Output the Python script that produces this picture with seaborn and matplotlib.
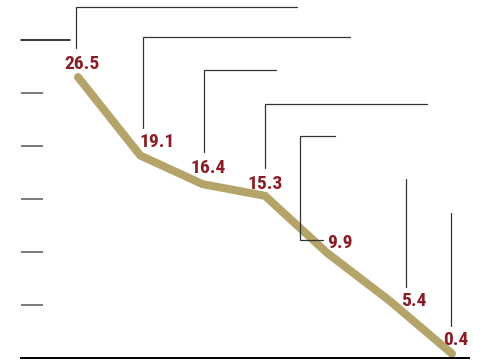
import matplotlib
matplotlib.use("Agg")
import matplotlib.pyplot as plt
import matplotlib.transforms as mtransforms
import seaborn as sns
import pandas as pd

# ---- data ----
positions = [0, 1, 2, 3, 4, 5, 6]
values = [26.5, 19.1, 16.4, 15.3, 9.9, 5.4, 0.4]
labels = ["26.5", "19.1", "16.4", "15.3", "9.9", "5.4", "0.4"]
y_ticks = [5, 10, 15, 20, 25, 30]

# ---- style ----
LINE_COLOR = "#B5A46A"
LABEL_COLOR = "#8B1C26"
W, H = 489, 361

sns.set_style("white")
plt.rcParams["font.family"] = ["Roboto Condensed", "Archivo Narrow",
                               "Barlow Condensed", "DejaVu Sans"]

fig = plt.figure(figsize=(W / 100, H / 100), dpi=100)
ax = fig.add_axes([21 / W, 3 / H, 448 / W, 358 / H])

df = pd.DataFrame({"pos": positions, "val": values})
sns.lineplot(data=df, x="pos", y="val", ax=ax, color=LINE_COLOR,
             linewidth=5.8, solid_capstyle="round", solid_joinstyle="miter",
             clip_on=False)

ax.set_xlim((21 - 78) / 62.33, (469 - 78) / 62.33)
ax.set_ylim(0, 358 / 10.6)

# axes styling
for s in ["top", "right", "left"]:
    ax.spines[s].set_visible(False)
ax.spines["bottom"].set_color("black")
ax.spines["bottom"].set_linewidth(1.4)
ax.set_xticks([])
ax.set_yticks([t for t in y_ticks if t < max(y_ticks)])
ax.set_yticklabels([])
ax.tick_params(axis="y", direction="in", length=15.8, width=1.1,
               color="#555555", left=True, pad=0)
ax.set_xlabel("")
ax.set_ylabel("")

# top gridline at the highest tick is drawn longer
ax.plot([0, 49 / 448], [max(y_ticks), max(y_ticks)],
        transform=mtransforms.blended_transform_factory(ax.transAxes, ax.transData),
        color="black", linewidth=1.1, clip_on=False)

# label offsets in pixels relative to each point (dx, dy)
label_offsets = [(4, 8), (17, 8.5), (5, 11), (0, 7), (13, 5), (24, -5), (4, 9)]
for x, v, t, (dx, dy) in zip(positions, values, labels, label_offsets):
    ax.annotate(t, xy=(x, v), xytext=(dx, dy), textcoords="offset pixels",
                ha="center", va="baseline", fontsize=14, fontweight="bold",
                color=LABEL_COLOR, annotation_clip=False)

# callout leader lines (pixel coordinates, origin top-left)
pix = mtransforms.Affine2D().scale(1, -1).translate(0, H)
callouts = [
    [(76, 48), (76, 7), (297, 7)],
    [(143, 128), (143, 37), (350, 37)],
    [(204, 152), (204, 70), (276, 70)],
    [(265, 168), (265, 104), (427, 104)],
    [(323, 240), (300, 240), (300, 136), (335, 136)],
    [(406, 287), (406, 179)],
    [(451, 326), (451, 213)],
]
for path in callouts:
    xs, ys = zip(*path)
    fig.add_artist(plt.Line2D(xs, ys, transform=pix, color="#333333",
                              linewidth=0.9, solid_joinstyle="miter"))

fig.savefig("out.png", dpi=100)
